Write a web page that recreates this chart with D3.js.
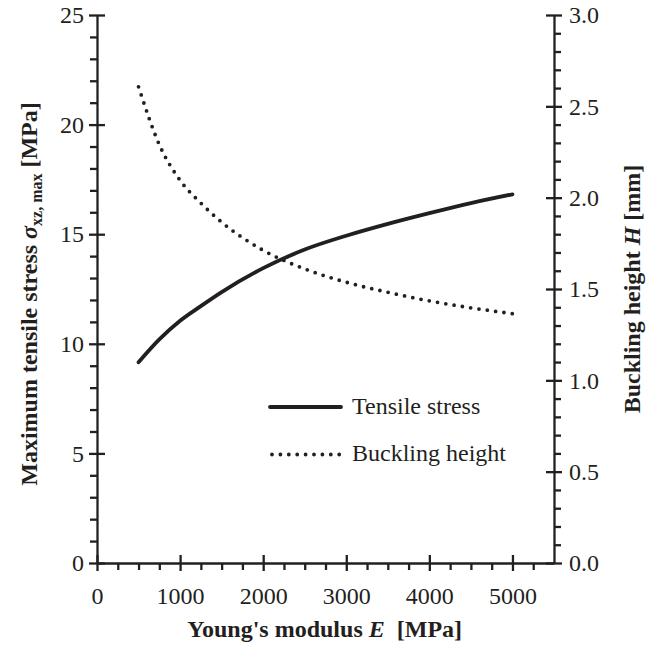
<!DOCTYPE html>
<html>
<head>
<meta charset="utf-8">
<script src="https://cdn.jsdelivr.net/npm/d3@7"></script>
<style>
  body { margin: 0; background: #fff; }
  text { font-family: "Liberation Serif", "Times New Roman", serif; fill: #231f20; }
</style>
</head>
<body>
<div id="chart"></div>
<script>
const WIDTH = 662, HEIGHT = 646;
const M = { top: 15, right: 108, bottom: 83, left: 97 };
const innerW = WIDTH - M.left - M.right;
const innerH = HEIGHT - M.top - M.bottom;
const INK = "#231f20";

// Young's modulus E [MPa]
const modulus = [500, 750, 1000, 1250, 1500, 2000, 2500, 3000, 3500, 4000, 4500, 5000];
// max tensile stress [MPa]
const tensile = [9.16, 10.2, 11.05, 11.72, 12.36, 13.45, 14.3, 14.93, 15.47, 15.96, 16.42, 16.82];
// buckling height H [mm]
const buckling = [2.607, 2.29, 2.095, 1.97, 1.866, 1.712, 1.61, 1.537, 1.482, 1.435, 1.397, 1.365];

const xTicks = [0, 1000, 2000, 3000, 4000, 5000];
const xMinor = d3.range(250, 5500, 250).filter(v => v % 1000 !== 0);
const yLTicks = [0, 5, 10, 15, 20, 25];
const yLMinor = d3.range(1, 25, 1).filter(v => v % 5 !== 0);
const yRTicks = [0, 0.5, 1.0, 1.5, 2.0, 2.5, 3.0];
const yRMinor = d3.range(1, 30, 1).filter(v => v % 5 !== 0).map(v => v / 10);

const svg = d3.select("#chart").append("svg")
  .attr("width", WIDTH).attr("height", HEIGHT);
const g = svg.append("g").attr("transform", `translate(${M.left},${M.top})`);

const x = d3.scaleLinear().domain([0, 5500]).range([0, innerW]);
const yL = d3.scaleLinear().domain([0, 25]).range([innerH, 0]);
const yR = d3.scaleLinear().domain([0, 3]).range([innerH, 0]);

function styleAxis(sel) {
  sel.selectAll("path").attr("stroke", INK).attr("stroke-width", 2.3);
  sel.selectAll("line").attr("stroke", INK).attr("stroke-width", 2.3);
  sel.selectAll("text").attr("font-size", 24).attr("fill", INK)
    .style("font-family", '"Liberation Serif", serif');
}

// minor ticks
g.append("g").attr("transform", `translate(0,${innerH})`)
  .call(d3.axisBottom(x).tickValues(xMinor).tickSize(7).tickSizeOuter(0).tickFormat(""))
  .call(styleAxis).select(".domain").remove();
g.append("g")
  .call(d3.axisLeft(yL).tickValues(yLMinor).tickSize(7).tickSizeOuter(0).tickFormat(""))
  .call(styleAxis).select(".domain").remove();
g.append("g").attr("transform", `translate(${innerW},0)`)
  .call(d3.axisRight(yR).tickValues(yRMinor).tickSize(7).tickSizeOuter(0).tickFormat(""))
  .call(styleAxis).select(".domain").remove();

// major axes, ticks cross the axis line
const xAxis = g.append("g").attr("transform", `translate(0,${innerH})`)
  .call(d3.axisBottom(x).tickValues(xTicks).tickSize(8).tickSizeOuter(0).tickPadding(16).tickFormat(d3.format("d")))
  .call(styleAxis);
xAxis.selectAll(".tick line").attr("y1", -8);

const yAxisL = g.append("g")
  .call(d3.axisLeft(yL).tickValues(yLTicks).tickSize(8).tickSizeOuter(0).tickPadding(5).tickFormat(d3.format("d")))
  .call(styleAxis);
yAxisL.selectAll(".tick line").attr("x1", 8);

const yAxisR = g.append("g").attr("transform", `translate(${innerW},0)`)
  .call(d3.axisRight(yR).tickValues(yRTicks).tickSize(8).tickSizeOuter(0).tickPadding(7).tickFormat(d3.format(".1f")))
  .call(styleAxis);
yAxisR.selectAll(".tick line").attr("x1", -8);

// curves
const tensLine = d3.line().curve(d3.curveMonotoneX)
  .x((d, i) => x(modulus[i])).y(d => yL(d));
const buckLine = d3.line().curve(d3.curveMonotoneX)
  .x((d, i) => x(modulus[i])).y(d => yR(d));

g.append("path").datum(tensile)
  .attr("fill", "none").attr("stroke", INK).attr("stroke-width", 3.8)
  .attr("stroke-linecap", "round").attr("d", tensLine);
g.append("path").datum(buckling)
  .attr("fill", "none").attr("stroke", INK).attr("stroke-width", 3.8)
  .attr("stroke-linecap", "round").attr("stroke-dasharray", "0 8.4").attr("d", buckLine);

// legend
const leg = svg.append("g");
leg.append("line").attr("x1", 270).attr("x2", 341).attr("y1", 407).attr("y2", 407)
  .attr("stroke", INK).attr("stroke-width", 3.8).attr("stroke-linecap", "round");
leg.append("text").attr("x", 352).attr("y", 414).attr("font-size", 24).text("Tensile stress");
leg.append("line").attr("x1", 272).attr("x2", 340).attr("y1", 454.5).attr("y2", 454.5)
  .attr("stroke", INK).attr("stroke-width", 3.8).attr("stroke-linecap", "round")
  .attr("stroke-dasharray", "0 8.4");
leg.append("text").attr("x", 352).attr("y", 461).attr("font-size", 24).text("Buckling height");

// axis titles
const xt = svg.append("text")
  .attr("x", M.left + x(2740)).attr("y", 637)
  .attr("text-anchor", "middle").attr("font-size", 24).attr("font-weight", "bold");
xt.append("tspan").text("Young's modulus ");
xt.append("tspan").attr("font-style", "italic").text("E");
xt.append("tspan").text("\u00a0 [MPa]");

const ylt = svg.append("text")
  .attr("transform", `translate(37,294) rotate(-90)`)
  .attr("text-anchor", "middle").attr("font-size", 24).attr("font-weight", "bold");
ylt.append("tspan").text("Maximum tensile stress ");
ylt.append("tspan").attr("font-style", "italic").text("\u03c3");
ylt.append("tspan").attr("font-size", 16).attr("dy", 5).text("xz, max");
ylt.append("tspan").attr("dy", -5).text(" [MPa]");

const yrt = svg.append("text")
  .attr("transform", `translate(640,289) rotate(-90)`)
  .attr("text-anchor", "middle").attr("font-size", 24).attr("font-weight", "bold");
yrt.append("tspan").text("Buckling height ");
yrt.append("tspan").attr("font-style", "italic").text("H");
yrt.append("tspan").text(" [mm]");
</script>
</body>
</html>
